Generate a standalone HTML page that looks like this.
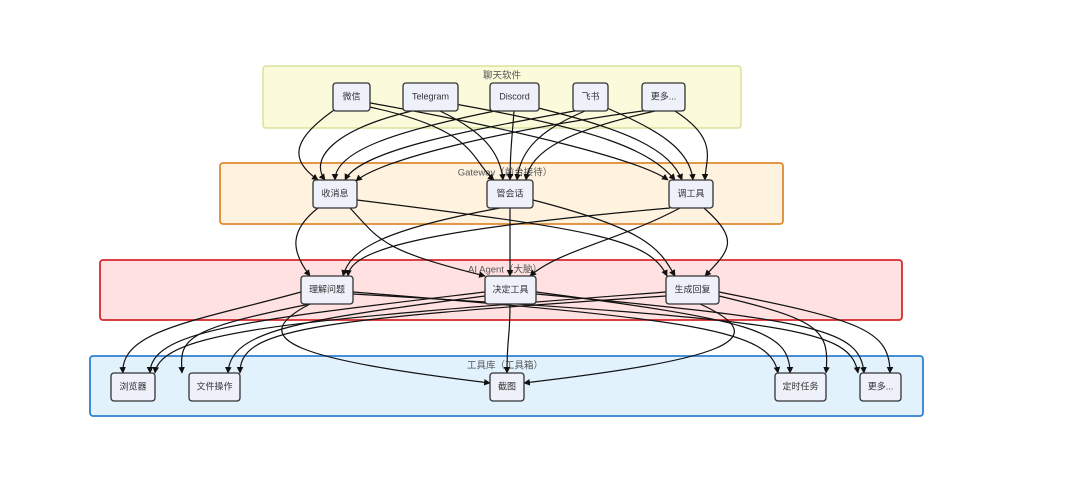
<!DOCTYPE html>
<html><head><meta charset="utf-8"><style>
html,body{margin:0;padding:0;background:#fff;}
svg{display:block;font-family:"Liberation Sans","Noto Sans CJK SC",sans-serif;}
.n{fill:#eef0fa;stroke:#333;stroke-width:1.3;}
.t{font-size:9px;fill:#333;text-anchor:middle;dominant-baseline:middle;}
.g{font-size:9.5px;fill:#555;text-anchor:middle;dominant-baseline:middle;}
.e path{fill:none;stroke:#111;stroke-width:1.2;marker-end:url(#a);}
</style></head><body>
<svg width="1080" height="486" viewBox="0 0 1080 486">
<defs><marker id="a" viewBox="0 0 10 10" refX="9" refY="5" markerWidth="5.5" markerHeight="5.5" orient="auto"><path d="M0,0L10,5L0,10z" fill="#111"/></marker></defs>
<rect x="263" y="66" width="478" height="62" rx="3" fill="#fbfbdc" stroke="#d8e29a" stroke-width="1.5"/>
<rect x="220" y="163" width="563" height="61" rx="3" fill="#fff3e0" stroke="#de8a30" stroke-width="1.8"/>
<rect x="100" y="260" width="802" height="60" rx="3" fill="#ffe1e1" stroke="#d8282c" stroke-width="1.8"/>
<rect x="90" y="356" width="833" height="60" rx="3" fill="#e2f2fd" stroke="#2f80d0" stroke-width="1.8"/>
<text class="g" x="502" y="76">聊天软件</text>
<text class="g" x="505" y="173">Gateway（前台接待）</text>
<text class="g" x="505" y="270">AI Agent（大脑）</text>
<text class="g" x="505" y="366">工具库（工具箱）</text>
<g class="e">
<path d="M337,108C290,140 290,160 318,180"/><path d="M416,110C330,130 310,160 325,180"/><path d="M500,110C400,130 335,150 335,180"/><path d="M580,110C470,130 360,150 345,180"/><path d="M650,110C500,130 380,160 356,181"/>
<path d="M365,106C480,130 470,160 494,180"/><path d="M440,111C480,130 500,150 503,180"/><path d="M514,111C512,140 510,150 510,180"/><path d="M585,111C540,130 520,150 517,180"/><path d="M655,111C570,130 530,150 526,180"/>
<path d="M365,102C520,130 640,160 668,180"/><path d="M455,104C600,130 650,150 675,180"/><path d="M530,106C630,130 670,150 682,180"/><path d="M602,106C660,130 690,150 693,180"/><path d="M675,111C720,140 705,160 705,180"/>
<path d="M318,208C290,230 290,250 310,276"/><path d="M500,208C380,230 350,250 343,276"/><path d="M670,208C420,230 350,250 348,276"/>
<path d="M350,208C380,240 380,250 485,276"/><path d="M510,208C510,245 510,240 510,276"/><path d="M680,208C620,240 560,250 530,276"/>
<path d="M357,200C600,230 650,240 667,276"/><path d="M533,200C650,230 660,250 675,276"/><path d="M704,208C740,240 730,250 705,276"/>
<path d="M301,292C200,320 120,330 123,373"/><path d="M485,292C250,320 150,330 150,373"/><path d="M666,292C300,320 160,330 155,373"/>
<path d="M310,304C180,330 180,340 182,373"/><path d="M485,296C300,320 230,330 228,373"/><path d="M666,296C300,320 240,330 240,373"/>
<path d="M310,304C240,340 300,360 490,383"/><path d="M510,304C510,340 507,335 507,373"/><path d="M700,304C780,340 720,360 524,383"/>
<path d="M353,292C700,320 770,330 778,373"/><path d="M536,292C750,320 790,330 790,373"/><path d="M719,296C820,320 830,330 826,373"/>
<path d="M353,294C800,320 850,330 858,373"/><path d="M536,294C820,320 860,330 864,373"/><path d="M719,292C860,320 890,330 890,373"/>
</g>
<g>
<rect class="n" x="333" y="83" width="37" height="28" rx="3"/><text class="t" x="351.5" y="97">微信</text>
<rect class="n" x="403" y="83" width="55" height="28" rx="3"/><text class="t" x="430.5" y="97">Telegram</text>
<rect class="n" x="490" y="83" width="49" height="28" rx="3"/><text class="t" x="514.5" y="97">Discord</text>
<rect class="n" x="573" y="83" width="35" height="28" rx="3"/><text class="t" x="590.5" y="97">飞书</text>
<rect class="n" x="642" y="83" width="43" height="28" rx="3"/><text class="t" x="663.5" y="97">更多...</text>
<rect class="n" x="313" y="180" width="44" height="28" rx="3"/><text class="t" x="335" y="194">收消息</text>
<rect class="n" x="487" y="180" width="46" height="28" rx="3"/><text class="t" x="510" y="194">管会话</text>
<rect class="n" x="669" y="180" width="44" height="28" rx="3"/><text class="t" x="691" y="194">调工具</text>
<rect class="n" x="301" y="276" width="52" height="28" rx="3"/><text class="t" x="327" y="290">理解问题</text>
<rect class="n" x="485" y="276" width="51" height="28" rx="3"/><text class="t" x="510.5" y="290">决定工具</text>
<rect class="n" x="666" y="276" width="53" height="28" rx="3"/><text class="t" x="692.5" y="290">生成回复</text>
<rect class="n" x="111" y="373" width="44" height="28" rx="3"/><text class="t" x="133" y="387">浏览器</text>
<rect class="n" x="189" y="373" width="51" height="28" rx="3"/><text class="t" x="214.5" y="387">文件操作</text>
<rect class="n" x="490" y="373" width="34" height="28" rx="3"/><text class="t" x="507" y="387">截图</text>
<rect class="n" x="775" y="373" width="51" height="28" rx="3"/><text class="t" x="800.5" y="387">定时任务</text>
<rect class="n" x="860" y="373" width="41" height="28" rx="3"/><text class="t" x="880.5" y="387">更多...</text>
</g>
</svg>
</body></html>
